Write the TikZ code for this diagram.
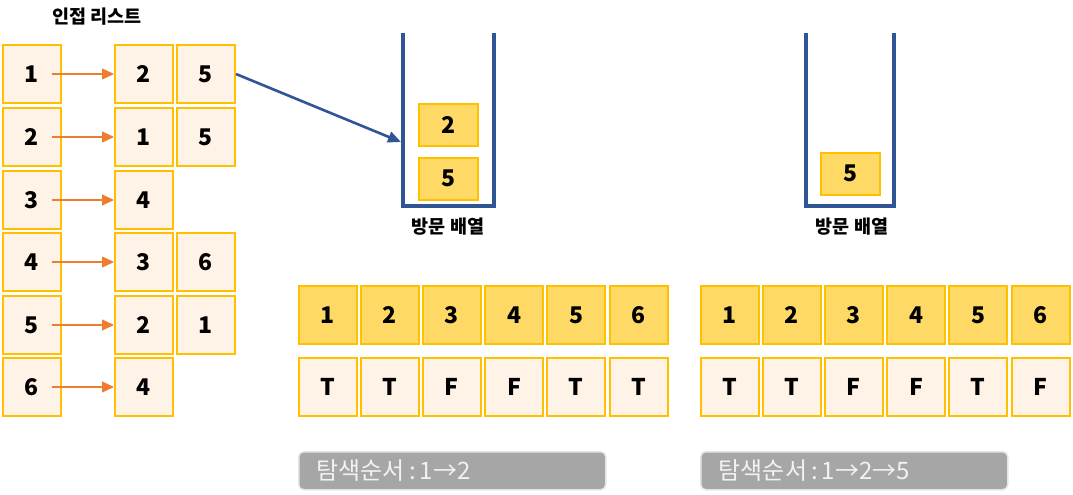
\documentclass[tikz,border=0pt]{standalone}
\usepackage{fontspec}
\setmainfont{Noto Sans CJK KR}
\usetikzlibrary{arrows.meta}
\definecolor{gold}{HTML}{FFC000}
\definecolor{lightfill}{HTML}{FFF3E7}
\definecolor{darkfill}{HTML}{FFD966}
\definecolor{sblue}{HTML}{2F5597}
\definecolor{oarr}{HTML}{ED7D31}
\definecolor{barfill}{HTML}{A6A6A6}
\tikzset{
  cell/.style={draw=gold, line width=2pt, fill=lightfill, minimum width=58pt, minimum height=58pt, inner sep=0pt, font=\fontsize{23}{26}\selectfont\bfseries},
  dcell/.style={cell, fill=darkfill},
  scell/.style={draw=gold, line width=2pt, fill=darkfill, minimum width=59pt, minimum height=42pt, inner sep=0pt, font=\fontsize{23}{26}\selectfont\bfseries},
  oarrow/.style={draw=oarr, line width=1.2pt, -{Triangle[length=12pt,width=11pt]}},
  barrow/.style={draw=sblue, line width=2.6pt, -{Triangle[length=13pt,width=11pt]}},
  stack/.style={draw=sblue, line width=4pt, miter limit=10},
  lbl/.style={font=\fontsize{18.5}{21}\selectfont\bfseries},
  bar/.style={draw=black!10, line width=1.5pt, fill=barfill, rounded corners=5pt, minimum height=38pt, inner xsep=18pt, inner ysep=0pt, text width=271pt, align=left, text=white!95!black, font=\fontsize{24}{27}\selectfont}
}
\begin{document}
\begin{tikzpicture}[x=1pt,y=-1pt]
\useasboundingbox (0,0) rectangle (1073,495);
\node[lbl] (title) at (97,17) {인접 리스트};
% adjacency list
\foreach \i/\y in {1/74,2/137,3/200,4/262,5/325,6/387}{
  \node[cell] (a\i) at (32,\y) {\i};
}
\node[cell] (b1) at (144,74) {2};
\node[cell] (c1) at (206,74) {5};
\node[cell] (b2) at (144,137) {1};
\node[cell] (c2) at (206,137) {5};
\node[cell] (b3) at (144,200) {4};
\node[cell] (b4) at (144,262) {3};
\node[cell] (c4) at (206,262) {6};
\node[cell] (b5) at (144,325) {2};
\node[cell] (c5) at (206,325) {1};
\node[cell] (b6) at (144,387) {4};
\foreach \i in {1,...,6}{
  \draw[oarrow] ([xshift=20pt]a\i.center) -- (b\i.west);
}
% stack 1
\draw[stack] (403,33) -- (403,206) -- (494,206) -- (494,33);
\node[scell] (s1a) at (448.5,125) {2};
\node[scell] (s1b) at (448.5,178.5) {5};
\node[lbl] (v1) at (448,227) {방문 배열};
\coordinate (s1in) at (401,142);
\draw[barrow] (c1.east) -- (s1in);
% stack 2
\draw[stack] (806,33) -- (806,206) -- (894,206) -- (894,33);
\node[scell] (s2a) at (850.5,173.5) {5};
\node[lbl] (v2) at (852,227) {방문 배열};
% arrays
\foreach \n [count=\k from 0] in {1,...,6}{
  \node[dcell] (p\n) at ({327.5+62.2*\k},315) {\n};
  \node[dcell] (q\n) at ({729.5+62.2*\k},315) {\n};
}
\foreach \t [count=\k from 0] in {T,T,F,F,T,T}{
  \node[cell] (pt\k) at ({327.5+62.2*\k},387) {\t};
}
\foreach \t [count=\k from 0] in {T,T,F,F,T,F}{
  \node[cell] (qt\k) at ({729.5+62.2*\k},387) {\t};
}
% bars
\node[bar, anchor=north west] (bar1) at (298,451) {탐색순서\hspace{4pt}:\hspace{4pt}1→2};
\node[bar, anchor=north west] (bar2) at (700,451) {탐색순서\hspace{4pt}:\hspace{4pt}1→2→5};
\end{tikzpicture}
\end{document}
